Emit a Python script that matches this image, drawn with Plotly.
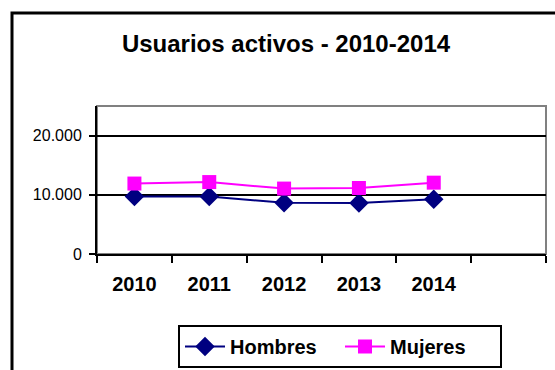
import plotly.graph_objects as go

# Datos: usuarios activos por año y sexo
anios = ["2010", "2011", "2012", "2013", "2014"]
hombres = [9700, 9700, 8650, 8600, 9250]
mujeres = [11900, 12150, 11050, 11150, 12050]

# Casilla vacía al final del eje de categorías
categorias = anios + [" "]

W, H = 555, 370
L, R, T, B = 97, 9, 106, 116
pw, ph = W - L - R, H - T - B


def px_x(p):
    return (p - L) / pw


def px_y(p):
    return (H - B - p) / ph


FONT = "Liberation Sans, Arial, sans-serif"

fig = go.Figure()
fig.add_trace(go.Scatter(
    x=anios, y=hombres, name="<b>Hombres</b>", mode="lines+markers",
    line=dict(color="#000080", width=2),
    marker=dict(symbol="diamond", size=15, color="#000080"),
))
fig.add_trace(go.Scatter(
    x=anios, y=mujeres, name="<b>Mujeres</b>", mode="lines+markers",
    line=dict(color="#FF00FF", width=2),
    marker=dict(symbol="square", size=14, color="#FF00FF"),
))

shapes = [
    # marco del área de trazado
    dict(type="rect", xref="paper", yref="paper", x0=0, x1=1, y0=0, y1=1,
         line=dict(color="#808080", width=2), layer="below"),
    # marco exterior del gráfico
    dict(type="rect", xref="paper", yref="paper",
         x0=px_x(12), x1=px_x(620), y0=px_y(420), y1=px_y(13),
         line=dict(color="black", width=3), layer="below"),
]

fig.update_layout(
    width=W, height=H,
    margin=dict(l=L, r=R, t=T, b=B, autoexpand=False),
    paper_bgcolor="white", plot_bgcolor="white",
    separators=",.",
    font=dict(family=FONT, color="black"),
    title=dict(text="<b>Usuarios activos - 2010-2014</b>",
               x=286 / W, xanchor="center", xref="container",
               y=1 - 44 / H, yanchor="middle", yref="container",
               font=dict(size=24, family=FONT, color="black")),
    showlegend=True,
    legend=dict(orientation="h", x=px_x(178), xanchor="left",
                y=px_y(325), yanchor="top",
                bordercolor="black", borderwidth=2, bgcolor="white",
                font=dict(size=20, family=FONT, color="black"),
                itemwidth=40, tracegroupgap=0,
                entrywidth=105, entrywidthmode="pixels"),
    shapes=shapes,
)

fig.update_xaxes(
    type="category", categoryorder="array", categoryarray=categorias,
    range=[-0.5, len(categorias) - 0.5],
    tickson="boundaries", ticks="outside", ticklen=7, tickwidth=2,
    tickcolor="black", showline=True, linecolor="black", linewidth=2,
    showgrid=False, zeroline=False,
    tickfont=dict(size=20, family=FONT, color="black"),
    ticktext=["<b>%s</b>" % a for a in categorias],
    tickvals=categorias,
    ticklabelstandoff=11,
)
fig.update_yaxes(
    range=[0, 25000], tickvals=[0, 10000, 20000], tickformat=",d",
    ticks="outside", ticklen=6, tickwidth=2, tickcolor="black",
    showline=True, linecolor="black", linewidth=2,
    showgrid=True, gridcolor="black", gridwidth=2, zeroline=False,
    tickfont=dict(size=16, family=FONT, color="black"),
    ticklabelstandoff=4,
)

fig.write_html("out.html")
